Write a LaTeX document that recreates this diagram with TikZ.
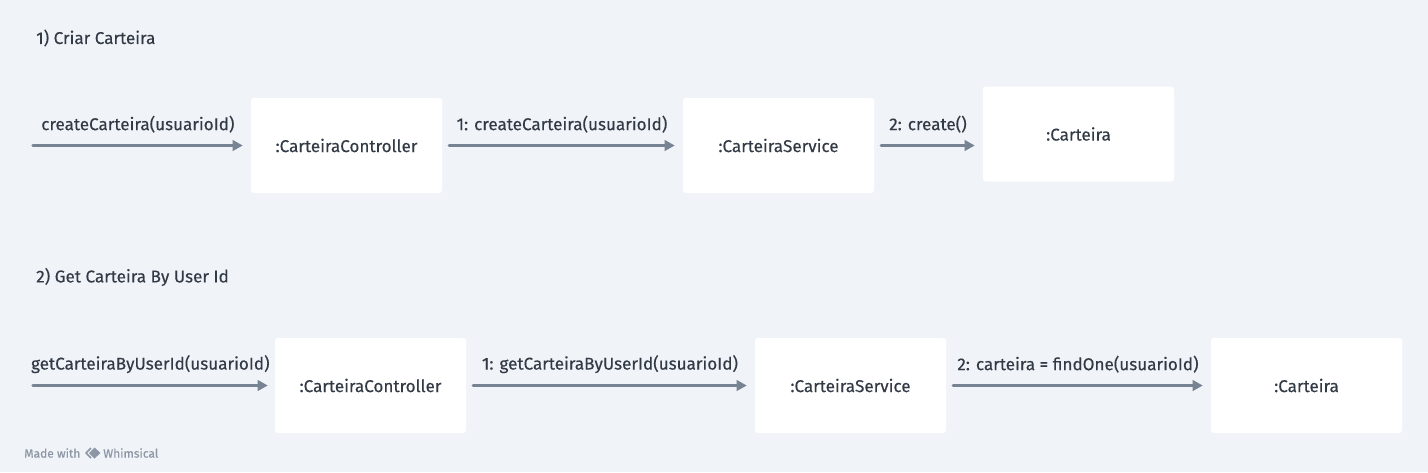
\documentclass[tikz,border=0pt]{standalone}
\usepackage{fontspec}
\setmainfont{Fira Sans}
\newfontfamily\diafont{Fira Sans}[FakeBold=0.3]
\usetikzlibrary{arrows.meta}

\definecolor{bgcol}{HTML}{F0F3F7}
\definecolor{msgcol}{HTML}{778393}
\definecolor{txtcol}{HTML}{323A46}
\definecolor{markcol}{HTML}{8C96A4}

\tikzset{
  objbox/.style={fill=white, rounded corners=2.25pt, minimum width=143.25pt,
    minimum height=71.25pt, text=txtcol, font=\diafont\fontsize{12.8}{14}\selectfont},
  msg/.style={draw=msgcol, line width=2.6pt, line cap=round,
    -{Triangle[length=7.5pt,width=7.8pt]}},
  msglabel/.style={midway, yshift=16pt, text=txtcol, font=\diafont\fontsize{12.8}{14}\selectfont},
  heading/.style={anchor=west, inner sep=0pt, text=txtcol, font=\diafont\fontsize{12.8}{14}\selectfont},
  watermark/.style={anchor=west, inner sep=0pt, text=markcol, font=\diafont\fontsize{9}{10}\selectfont}
}

\begin{document}
\begin{tikzpicture}[x=0.75pt, y=-0.75pt]

% Background
\fill[bgcol] (0,0) rectangle (1428,472);
\useasboundingbox (0,0) rectangle (1428,472);

% 1) Criar Carteira
\node[heading] (title1) at (36,38) {1) Criar Carteira};

\node[objbox] (ctrl1) at (346.5,145.5) {:CarteiraController};
\node[objbox] (svc1) at (778.5,145.5) {:CarteiraService};
\node[objbox] (cart1) at (1078.5,134) {:Carteira};
\coordinate (in1) at (33,145.5);

\draw[msg] (in1) -- ([xshift=-6pt]ctrl1.west) node[msglabel] {createCarteira(usuarioId)};
\draw[msg] ([xshift=5.25pt]ctrl1.east) -- ([xshift=-6pt]svc1.west) node[msglabel] {1: createCarteira(usuarioId)};
\draw[msg] ([xshift=5.25pt]svc1.east) -- ([xshift=-6pt]svc1.east -| cart1.west) node[msglabel] {2: create()};

% 2) Get Carteira By User Id
\node[heading] (title2) at (36,277) {2) Get Carteira By User Id};

\node[objbox] (ctrl2) at (370.5,385.5) {:CarteiraController};
\node[objbox] (svc2) at (850.5,385.5) {:CarteiraService};
\node[objbox] (cart2) at (1306.5,385.5) {:Carteira};
\coordinate (in2) at (33,385.5);

\draw[msg] (in2) -- ([xshift=-5.25pt]ctrl2.west) node[msglabel] {getCarteiraByUserId(usuarioId)};
\draw[msg] ([xshift=5.25pt]ctrl2.east) -- ([xshift=-6pt]svc2.west) node[msglabel] {1: getCarteiraByUserId(usuarioId)};
\draw[msg] ([xshift=5.25pt]svc2.east) -- ([xshift=-6pt]cart2.west) node[msglabel] {2: carteira = findOne(usuarioId)};

% Watermark
\node[watermark] (made) at (24,453) {Made with};
\draw[markcol, line width=1.2pt, line join=round] (91,448) -- (86,453) -- (91,458);
\fill[markcol] (89,453) -- (94.5,447.5) -- (100.5,453) -- (94.5,458.5) -- cycle;
\node[watermark] (whim) at (103,453) {Whimsical};

\end{tikzpicture}
\end{document}
